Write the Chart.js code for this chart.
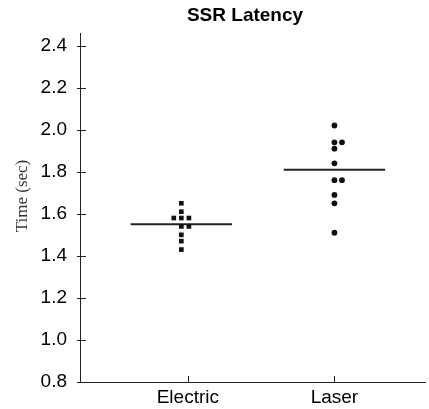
<!DOCTYPE html>
<html>
<head>
<meta charset="utf-8">
<script src="https://cdn.jsdelivr.net/npm/chart.js@4.4.1/dist/chart.umd.min.js"></script>
<style>
  html, body { margin: 0; padding: 0; background: #fff; }
  #wrap { width: 429px; height: 409px; }
</style>
</head>
<body>
<div id="wrap"><canvas id="latencyChart" width="429" height="409"></canvas></div>
<script>
// data
const chartTitle = 'SSR Latency';
const yTitle = 'Time (sec)';
const categories = ['Electric', 'Laser'];
const electricTimes = [1.65, 1.61, 1.58, 1.58, 1.58, 1.54, 1.54, 1.50, 1.47, 1.43];
const laserTimes = [2.02, 1.94, 1.94, 1.91, 1.84, 1.76, 1.76, 1.69, 1.65, 1.51];
const meanTimes = [1.55, 1.81];
const yTicks = [0.8, 1.0, 1.2, 1.4, 1.6, 1.8, 2.0, 2.2, 2.4];

// where things sit on the x scale (0 .. 3.2)
const tickX = [1, 2.36];
const columnX = [0.94, 2.36];
const jitter = 0.07;
const meanHalfWidth = 0.47;

function toPoints(values, cx) {
    const seen = {};
    const offsets = [0, 1, -1, 2, -2];
    return values.map(function(v) {
        const k = seen[v] || 0;
        seen[v] = k + 1;
        return { x: cx + offsets[k] * jitter, y: v };
    });
}

const innerTicks = {
    id: 'innerTicks',
    afterDraw(chart) {
        const ctx = chart.ctx;
        const area = chart.chartArea;
        ctx.save();
        ctx.strokeStyle = '#222';
        ctx.lineWidth = 1;
        chart.scales.y.ticks.forEach(function(t) {
            const py = Math.round(chart.scales.y.getPixelForValue(t.value)) + 0.5;
            ctx.beginPath();
            ctx.moveTo(area.left - 3, py);
            ctx.lineTo(area.left + 6, py);
            ctx.stroke();
        });
        chart.scales.x.ticks.forEach(function(t) {
            const px = Math.round(chart.scales.x.getPixelForValue(t.value)) + 0.5;
            ctx.beginPath();
            ctx.moveTo(px, area.bottom);
            ctx.lineTo(px, area.bottom - 6);
            ctx.stroke();
        });

        // titles
        ctx.fillStyle = '#000';
        ctx.textAlign = 'center';
        ctx.textBaseline = 'middle';
        ctx.font = 'bold 19px "Liberation Sans", Arial, sans-serif';
        ctx.fillText(chartTitle, 245, 16);

        ctx.translate(23, 196);
        ctx.rotate(-Math.PI / 2);
        ctx.fillStyle = '#333';
        ctx.font = '17px "Liberation Serif", "Times New Roman", serif';
        ctx.fillText(yTitle, 0, 0);
        ctx.restore();
    }
};

const ctx = document.getElementById('latencyChart').getContext('2d');
const chart = new Chart(ctx, {
    type: 'scatter',
    data: {
        datasets: [
            {
                label: categories[0],
                data: toPoints(electricTimes, columnX[0]),
                pointStyle: 'rect',
                pointRadius: 3.3,
                backgroundColor: '#111',
                borderColor: '#111',
                borderWidth: 0
            },
            {
                label: categories[1],
                data: toPoints(laserTimes, columnX[1]),
                pointStyle: 'circle',
                pointRadius: 2.9,
                backgroundColor: '#111',
                borderColor: '#111',
                borderWidth: 0
            },
            {
                label: 'mean ' + categories[0],
                data: [
                    { x: columnX[0] - meanHalfWidth, y: meanTimes[0] },
                    { x: columnX[0] + meanHalfWidth, y: meanTimes[0] }
                ],
                showLine: true,
                pointRadius: 0,
                borderColor: '#222',
                borderWidth: 2
            },
            {
                label: 'mean ' + categories[1],
                data: [
                    { x: columnX[1] - meanHalfWidth, y: meanTimes[1] },
                    { x: columnX[1] + meanHalfWidth, y: meanTimes[1] }
                ],
                showLine: true,
                pointRadius: 0,
                borderColor: '#222',
                borderWidth: 2
            }
        ]
    },
    options: {
        responsive: false,
        animation: false,
        layout: { padding: { top: 33, right: 1, left: 0, bottom: 0 } },
        plugins: {
            legend: { display: false },
            title: { display: false },
            tooltip: { enabled: false }
        },
        scales: {
            x: {
                type: 'linear',
                min: 0,
                max: 3.2,
                afterBuildTicks: function(scale) {
                    scale.ticks = tickX.map(function(v) { return { value: v }; });
                },
                afterFit: function(scale) { scale.height = 27; },
                grid: { display: false, drawTicks: false },
                border: { display: true, color: '#222', width: 1 },
                ticks: {
                    padding: 4,
                    color: '#000',
                    font: { family: '"Liberation Sans", Arial, sans-serif', size: 19 },
                    callback: function(value) {
                        const i = tickX.indexOf(value);
                        return i >= 0 ? categories[i] : '';
                    }
                }
            },
            y: {
                min: 0.8,
                max: 2.46,
                afterBuildTicks: function(scale) {
                    scale.ticks = yTicks.map(function(v) { return { value: v }; });
                },
                afterFit: function(scale) { scale.width = 80; },
                grid: { display: false, drawTicks: false },
                border: { display: true, color: '#222', width: 1 },
                ticks: {
                    padding: 13,
                    color: '#000',
                    font: { family: '"Liberation Sans", Arial, sans-serif', size: 19 },
                    callback: function(value) { return value.toFixed(1); }
                }
            }
        }
    },
    plugins: [innerTicks]
});
</script>
</body>
</html>
